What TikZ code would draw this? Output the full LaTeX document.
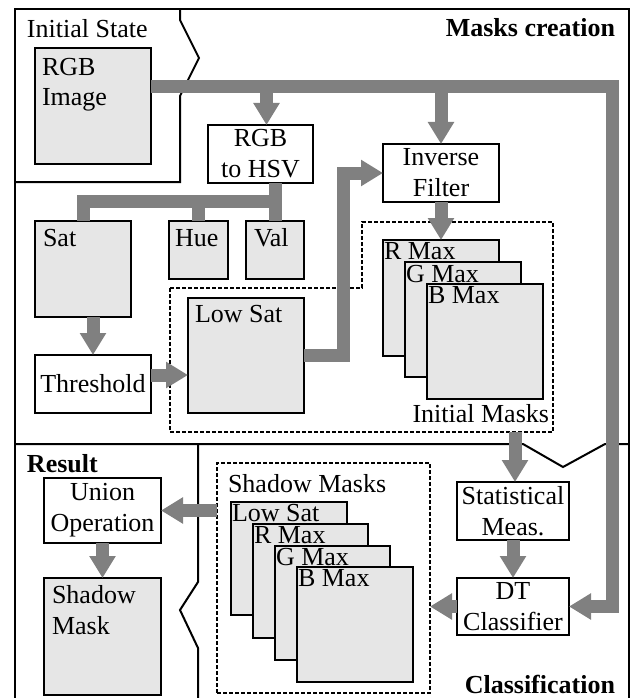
\documentclass[tikz,border=0pt]{standalone}
\usepackage{fontspec}
\setmainfont{Liberation Serif}
\usetikzlibrary{arrows.meta,calc}
\definecolor{conngray}{HTML}{808080}
\definecolor{boxfill}{HTML}{E6E6E6}
\begin{document}
\begin{tikzpicture}[x=1pt,y=-1pt,
  every node/.style={font=\fontsize{26pt}{31pt}\selectfont},
  box/.style={draw, line width=2pt, outer sep=0pt, inner sep=0pt, anchor=north west, align=center},
  img/.style={box, fill=boxfill},
  lbl/.style={inner sep=0pt, outer sep=0pt, anchor=base west},
  conn/.style={draw=conngray, line width=13pt, -{Triangle[width=25pt,length=22pt]}},
  link/.style={draw=conngray, line width=13pt},
  region/.style={line width=2pt},
  dashbox/.style={line width=1.5pt, dash pattern=on 4pt off 2pt}]
\useasboundingbox (0,0) rectangle (636,698);
\fill[white] (0,0) rectangle (636,698);
% regions
\draw[region] (15,702) -- (15,9.5) -- (629,9.5) -- (629,702);
\draw[region] (180,9.5) -- (180,20) -- (199,58) -- (180,96) -- (180,182) -- (15,182);
\draw[region] (15,444) -- (523,444) -- (563,467) -- (605,444) -- (629,444);
\draw[region] (198,444) -- (198,582) -- (180,610) -- (198,648) -- (198,702);
% region titles
\node[lbl] at (27,38) {Initial State};
\node[lbl, anchor=base east] at (615,37) {\bfseries Masks creation};
\node[lbl] at (27,472) {\bfseries Result};
\node[lbl, anchor=base east] at (615,693) {\bfseries Classification};
% dashed groups
\draw[dashbox] (170,288) -- (362,288) -- (362,222) -- (553,222) -- (553,432) -- (170,432) -- cycle;
\coordinate (imb) at (515,432);
\node[lbl, anchor=base east] at (549,422) {Initial Masks};
\node[box, dashbox, minimum width=213pt, minimum height=230pt] (shadow) at (217,463) {};
\node[lbl] at (228,492) {Shadow Masks};
% boxes
\node[img, minimum width=116pt, minimum height=116pt] (rgb) at (35,48) {};
\node[lbl] at (42,76) {RGB};
\node[lbl] at (42,106) {Image};
\node[box, minimum width=105pt, minimum height=58pt] (hsv) at (208,125) {RGB\\to HSV};
\node[box, minimum width=116pt, minimum height=58pt] (inv) at (383,144) {Inverse\\Filter};
\node[img, minimum width=96pt, minimum height=96pt] (sat) at (35,221) {};
\node[lbl] at (43,246) {Sat};
\node[img, minimum width=59pt, minimum height=58pt] (hue) at (169,221) {};
\node[lbl] at (175,246) {Hue};
\node[img, minimum width=58pt, minimum height=58pt] (val) at (246,221) {};
\node[lbl] at (254,246) {Val};
\node[box, minimum width=116pt, minimum height=58pt] (thr) at (35,355) {Threshold};
\node[img, minimum width=116pt, minimum height=115pt] (lowsat) at (188,298) {};
\node[lbl] at (195,322) {Low Sat};
\node[img, minimum width=116pt, minimum height=116pt] (rmax) at (383,240) {};
\node[lbl] at (384,259) {R Max};
\node[img, minimum width=116pt, minimum height=115pt] (gmax) at (405,262) {};
\node[lbl] at (406,282) {G Max};
\node[img, minimum width=116pt, minimum height=115pt] (bmax) at (427,284) {};
\node[lbl] at (428,303) {B Max};
\node[box, minimum width=112pt, minimum height=58pt] (stat) at (457,482) {Statistical\\Meas.};
\node[box, minimum width=112pt, minimum height=57pt] (dt) at (457,578) {DT\\Classifier};
\node[img, minimum width=116pt, minimum height=113pt] (sls) at (231,502) {};
\node[lbl] at (232,521) {Low Sat};
\node[img, minimum width=115pt, minimum height=114pt] (srm) at (253,524) {};
\node[lbl] at (254,543) {R Max};
\node[img, minimum width=115pt, minimum height=114pt] (sgm) at (275,546) {};
\node[lbl] at (276,565) {G Max};
\node[img, minimum width=116pt, minimum height=115pt] (sbm) at (297,567) {};
\node[lbl] at (298,586) {B Max};
\node[box, minimum width=117pt, minimum height=65pt] (union) at (44,478) {Union\\Operation};
\node[img, minimum width=117pt, minimum height=117pt] (shmask) at (44,578) {};
\node[lbl] at (52,603) {Shadow};
\node[lbl] at (52,634) {Mask};
% connectors
\coordinate (bus) at (612,87);
\coordinate (hsvin) at ([xshift=6pt]hsv.north);
\draw[conn] (rgb.east |- bus) -- (bus) |- (dt.east);
\draw[conn] (hsvin |- bus) -- (hsvin);
\draw[conn] (inv.north |- bus) -- (inv.north);
\coordinate (split) at (275,201);
\draw[link] (split |- hsv.south) -- (split |- val.north);
\draw[link] (split) -| (sat.north);
\draw[link] (split -| hue.north) -- (hue.north);
\draw[conn] (thr.north |- sat.south) -- (thr.north);
\coordinate (t1) at ([yshift=9pt]thr.east);
\draw[conn] (t1) -- (t1 -| lowsat.west);
\coordinate (bx) at (343,356);
\draw[conn] (lowsat.east) -- (lowsat.east -| bx) |- (inv.west);
\draw[conn] (inv.south) -- (rmax.north);
\draw[conn] (imb) -- (imb |- stat.north);
\draw[conn] (stat.south) -- (dt.north);
\draw[conn] (dt.west) -- (dt.west -| shadow.east);
\draw[conn] (union.east -| shadow.west) -- (union.east);
\draw[conn] (union.south) -- (shmask.north);
\end{tikzpicture}
\end{document}
